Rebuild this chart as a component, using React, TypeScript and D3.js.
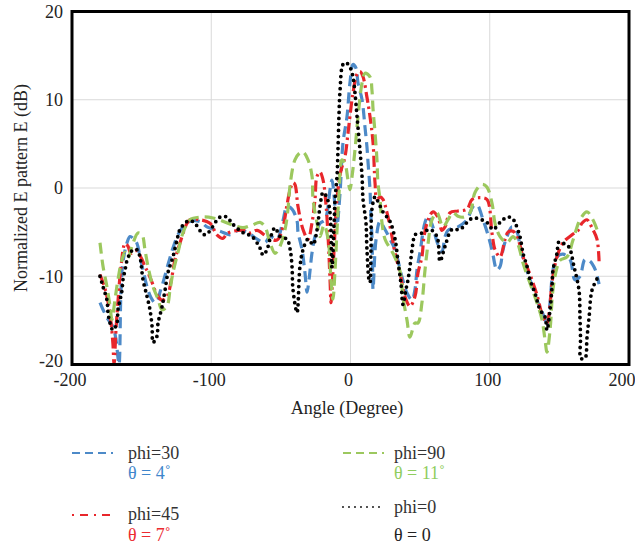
import React from "react";
import * as d3 from "d3";

type Pt = [number, number];

const xTicks = [-200, -100, 0, 100, 200];
const yTicks = [-20, -10, 0, 10, 20];
const xGrid = [-100, 0, 100];
const yGrid = [-10, 0, 10];

// phi=30, theta=4°
const phi30: Pt[] = [
  [-179.9, -13.0], [-177.7, -13.8], [-174.1, -14.9], [-170.6, -15.7], [-168.4, -17.2], [-167, -19.2], [-166.2, -20],
  [-164.8, -11.5], [-163.4, -8.4], [-160.5, -6.2], [-158.3, -5.5], [-155.5, -5.8], [-153.3, -6.3], [-151.2, -7.8],
  [-149, -9.3], [-146.1, -11.2], [-143.3, -12.4], [-140.4, -13.0], [-138.2, -12.6], [-136.8, -11.8], [-134.6, -10.7],
  [-131.1, -8.7], [-127.5, -6.8], [-123.9, -5.3], [-120.3, -4.4], [-115.3, -3.8], [-108.1, -3.8], [-103.1, -4.4],
  [-93.7, -4.9], [-86.5, -5.3], [-82.9, -5.0], [-80.8, -4.8], [-74.3, -5.0], [-67.1, -5.8], [-61.4, -6.2],
  [-57.8, -5.5], [-52.8, -5.8], [-48.5, -3.7], [-45.6, -2.1], [-42, -2.4], [-38.4, -3.7], [-37.7, -5.0],
  [-34.8, -7.0], [-32.7, -9.6], [-31.2, -11.8], [-29.8, -10.4], [-27.6, -7.3], [-25.5, -5.5], [-21.9, -4.0],
  [-18.3, -3.6], [-14.7, -0.2], [-13.3, 0.9], [-11.1, -2.1], [-9.7, -4.2], [-7.5, -0.5], [-5.4, 5.1],
  [-2.5, 8.1], [-0.4, 11.9], [1.8, 14.0], [3.9, 13.6], [5.4, 11.9], [8.3, 10.0], [10.4, 6.9], [11.8, 4.7],
  [12.6, 2.9], [14, -0.2], [14.7, -3.3], [15.4, -5.5], [15.8, -8.5], [16.2, -11.5], [18.3, -5.9], [21.2, -3.8],
  [24.1, -4.5], [28.4, -5.8], [32, -7.0], [37, -10.1], [40.6, -11.9], [44.2, -12.7], [46.3, -11.5], [47.8, -9.2],
  [49.9, -7.3], [53.5, -3.9], [55.7, -3.2], [58.5, -4.1], [62.8, -6.4], [65.7, -7.2], [67.9, -5.5], [70, -4.8],
  [77.2, -4.4], [83.7, -3.6], [88, -2.1], [90.8, -1.9], [95.2, -3.6], [98.7, -5.3], [101.6, -7.0], [105.2, -9.3],
  [107.4, -8.9], [109.5, -7.0], [112.4, -5.5], [116, -4.4], [119.6, -5.0], [121.7, -6.6], [125.3, -8.7],
  [128.9, -10.4], [133.9, -12.7], [137.5, -14.0], [139.7, -14.9], [141.1, -15.7], [143.3, -13.0], [145.4, -9.3],
  [148.3, -7.8], [152.6, -7.5], [157.6, -8.1], [161.2, -10.4], [164.8, -10.0], [168.4, -8.1], [172, -8.3],
  [175.6, -9.2], [178.5, -10.9],
];

// phi=45, theta=7°
const phi45: Pt[] = [
  [-179.9, -9.8], [-176.3, -11.4], [-174.1, -12.9], [-172, -15.2], [-170.6, -17.7], [-169.8, -20], [-168.4, -16.0],
  [-167, -12.9], [-164.8, -8.9], [-161.9, -6.3], [-159.8, -6.6], [-157.6, -7.4], [-154, -7.1], [-149.7, -8.1],
  [-147.6, -8.9], [-145.4, -9.6], [-142.5, -10.7], [-139, -12.1], [-135.4, -12.7], [-131.8, -12.3], [-128.2, -10.0],
  [-126, -8.1], [-122.4, -6.2], [-117.4, -4.0], [-115.3, -3.6], [-108.1, -3.6], [-100.9, -4.0], [-95.9, -5.3],
  [-91.6, -5.7], [-88, -5.1], [-77.2, -4.8], [-72.2, -5.1], [-67.1, -4.8], [-60, -5.5], [-52.8, -5.9],
  [-48.5, -4.4], [-45.6, -1.9], [-43.4, -0.2], [-41.3, 0.6], [-39.9, 0.4], [-37.7, -2.1], [-34.1, -4.7],
  [-30.5, -5.8], [-27.6, -3.9], [-25.5, -1.3], [-24.1, 1.3], [-21.9, 1.8], [-19.7, 0.9], [-17.6, -1.9],
  [-16.1, -5.5], [-14.7, -10.4], [-14, -13.0], [-13.3, -11.5], [-11.8, -7.0], [-9.7, -1.3], [-7.5, 1.5],
  [-6.1, 2.4], [-4, 3.5], [-1.8, 6.2], [-0.4, 8.1], [1.8, 10.8], [4.7, 12.9], [6.8, 13.2], [9, 12.6],
  [11.8, 10.3], [14, 8.1], [16.2, 5.1], [17.6, 0.6], [19, -1.3], [21.2, -1.0], [23.3, -1.3], [26.2, -2.8],
  [29.8, -5.5], [32, -7.4], [35.5, -9.6], [39.1, -12.3], [42.7, -13.4], [46.3, -12.3], [48.5, -9.6],
  [51.3, -7.8], [52.8, -5.5], [55.7, -3.6], [59.2, -2.7], [62.8, -3.3], [65.7, -4.8], [67.9, -4.4],
  [71.5, -2.8], [77.2, -2.6], [83.7, -2.4], [87.3, -1.3], [93, -1.1], [98, -1.3], [101.6, -5.1], [103.8, -7.0],
  [107.4, -7.8], [111, -5.8], [113.1, -5.0], [116.7, -4.9], [120.3, -5.8], [123.9, -7.8], [128.9, -9.8],
  [133.9, -12.1], [138.2, -14.6], [141.1, -15.3], [143.3, -13.2], [144.7, -10.7], [148.3, -7.8], [152.6, -6.2],
  [159.1, -5.3], [163.4, -4.8], [166.2, -4.0], [169.8, -3.6], [173.4, -4.5], [177, -5.8], [178.5, -8.3],
];

// phi=90, theta=11°
const phi90: Pt[] = [
  [-179.9, -6.2], [-177.7, -8.9], [-174.9, -11.2], [-172.7, -13.4], [-171.3, -14.9], [-169.1, -12.6], [-167, -10.4],
  [-164.1, -8.1], [-161.9, -7.3], [-159.8, -7.9], [-156.9, -6.6], [-152.6, -5.1], [-149.7, -5.3], [-147.6, -7.0],
  [-145.4, -8.9], [-141.8, -11.2], [-138.2, -12.6], [-135.4, -13.8], [-131.8, -13.4], [-129.6, -11.5],
  [-127.5, -9.6], [-123.9, -7.3], [-120.3, -5.1], [-115.3, -3.6], [-108.1, -3.3], [-98.7, -3.4], [-84.4, -4.2],
  [-77.2, -4.5], [-70.7, -4.2], [-65, -3.9], [-61.4, -4.4], [-57.8, -6.2], [-54.2, -7.4], [-50.6, -6.6],
  [-47, -4.7], [-44.9, -2.4], [-43.4, 0.3], [-39.9, 3.2], [-36.3, 4.0], [-34.1, 4.1], [-30.5, 3.2],
  [-27.6, 1.3], [-26.9, -1.3], [-24.1, -3.9], [-21.9, -5.5], [-19, -4.2], [-16.1, -5.8], [-14, -10.4],
  [-12.6, -12.6], [-11.1, -9.3], [-9.7, -4.8], [-8.3, -0.8], [-6.1, 3.2], [-4, 2.8], [-1.8, 0.9], [-0.4, -0.2],
  [1.1, 1.3], [3.2, 4.3], [5.4, 8.1], [8.3, 11.9], [10.4, 13.0], [14, 12.6], [15.4, 11.1], [16.2, 8.9],
  [17.6, 6.3], [19, 3.2], [19.7, 0.6], [21.2, -1.3], [22.6, -3.9], [24.8, -5.8], [30.5, -7.4], [35.5, -9.4],
  [37.7, -12.4], [40.6, -15.0], [42.7, -16.9], [46.3, -15.3], [48.5, -15.3], [51.3, -13.0], [53.5, -9.3],
  [55.7, -6.3], [58.5, -3.6], [62.1, -2.8], [66.4, -4.4], [70, -3.6], [73.6, -2.8], [77.2, -3.2], [81, -3.3],
  [85.8, -2.8], [89.4, -0.5], [94.4, 0.4], [98, 0.1], [101.6, -1.7], [103.8, -4.0], [107.4, -5.5],
  [112.4, -6.2], [116.7, -5.5], [120.3, -6.4], [123.9, -8.5], [128.9, -10.8], [133.9, -13.0], [137.5, -14.9],
  [139.7, -17.2], [141.1, -18.6], [143.3, -16.1], [145.4, -11.5], [148.3, -9.0], [150.4, -8.2], [155.5, -7.8],
  [159.8, -5.9], [164.8, -3.6], [169.8, -2.7], [174.1, -3.6], [177.7, -5.0],
];

// phi=0, theta=0
const phi0: Pt[] = [
  [-179.9, -10.0], [-177.7, -11.2], [-174.9, -12.7], [-174.1, -14.2], [-172.7, -15.3], [-170.6, -16.1],
  [-167.7, -15.3], [-167, -13.8], [-165.5, -12.7], [-164.1, -11.6], [-163.4, -10.4], [-161.9, -9.3],
  [-160.5, -8.2], [-158.3, -7.4], [-156.2, -7.0], [-153.3, -7.0], [-151.2, -7.8], [-149, -10.4], [-146.1, -12.3],
  [-144, -13.8], [-142.5, -15.7], [-141.8, -17.5], [-139, -16.8], [-138.2, -15.3], [-135.4, -13.5],
  [-133.2, -11.6], [-131.1, -9.6], [-127.5, -7.8], [-124.6, -5.9], [-122.4, -4.7], [-117.4, -3.8],
  [-113.1, -3.8], [-104.5, -5.3], [-93.7, -3.3], [-88.7, -3.3], [-85.1, -4.0], [-77.9, -5.0], [-70.7, -5.5],
  [-65, -6.8], [-62.8, -7.6], [-60, -7.0], [-57.8, -5.8], [-54.2, -4.5], [-50.6, -5.5], [-45.6, -5.8],
  [-43.4, -6.9], [-42, -8.9], [-41.3, -11.5], [-38.4, -14.1], [-36.3, -8.9], [-34.1, -7.0], [-30.5, -5.8],
  [-26.9, -6.4], [-24.1, -4.8], [-21.9, -2.1], [-19.7, -0.5], [-16.9, -1.1], [-14.7, -2.8], [-13.3, -9.0],
  [-11.8, -4.2], [-11.1, -1.3], [-9.7, 1.3], [-9, 4.3], [-8.3, 8.1], [-7.5, 11.1], [-5.4, 14.0], [-3.2, 14.2],
  [-0.4, 13.7], [1.8, 12.6], [3.2, 10.8], [4.7, 8.1], [6.8, 4.3], [8.3, 1.3], [9, -1.3], [11.1, -3.9],
  [11.8, -6.9], [13.3, -10.4], [14, -10.7], [14.7, -7.0], [15.4, -2.4], [17.6, -1.0], [19, -1.3], [23.3, -2.7],
  [28.4, -3.8], [32, -5.8], [34.1, -8.3], [36.3, -10.9], [37.7, -13.2], [39.8, -11.5], [41.3, -10.4],
  [42.7, -8.9], [44.9, -6.2], [46.3, -5.3], [51.3, -5.1], [57.1, -4.7], [62.1, -5.5], [64.3, -8.3],
  [67.9, -6.6], [72.9, -4.7], [78.6, -4.7], [83.7, -3.9], [88, -3.4], [98, -3.9], [102.3, -4.7], [107.4, -3.9],
  [112.4, -3.3], [116, -3.4], [118.1, -3.9], [121.7, -5.5], [123.9, -7.4], [126.8, -8.9], [128.9, -10.4],
  [132.5, -11.9], [136.1, -13.8], [139.7, -14.6], [141.1, -16.1], [143.3, -13.8], [144.7, -11.2],
  [145.4, -9.3], [148.3, -7.4], [149.7, -6.1], [153.3, -6.3], [156.9, -6.7], [160.5, -8.9], [164.1, -11.6],
  [164.8, -14.7], [165.2, -17.0], [165.5, -19.3], [168.4, -19.3], [169.8, -17.0], [171.3, -14.7],
  [173.4, -11.6], [177, -10.3],
];

const seriesLabels = ["phi=30", "phi=45", "phi=90", "phi=0"];
const thetaLabels = ["θ = 4˚", "θ = 7˚", "θ = 11˚", "θ = 0"];

const FONT = "Times New Roman";

export default function App() {
  const W = 635;
  const H = 548;
  const left = 72, right = 629, top = 11.5, bottom = 364.5;
  const x = d3.scaleLinear().domain([-200, 200]).range([left, right]);
  const y = d3.scaleLinear().domain([-20, 20]).range([bottom, top]);
  const line = d3
    .line<Pt>()
    .x((d) => x(d[0]))
    .y((d) => y(d[1]))
    .curve(d3.curveCatmullRom.alpha(0.5));

  const styles = [
    { data: phi30, color: "#4d8ac8", dash: "11,6", width: 3.2, cap: "butt", text: "#3f86cc" },
    { data: phi45, color: "#e8262b", dash: "11,4,2.5,4", width: 3.2, cap: "butt", text: "#ec2a2f" },
    { data: phi90, color: "#9cc85e", dash: "11,6", width: 3.2, cap: "butt", text: "#8fcd5e" },
    { data: phi0, color: "#000000", dash: "0,6", width: 3.8, cap: "round", text: "#222222" },
  ];

  const legendPos = [
    { lx: 72, ly: 453, tx: 128, ty1: 459, ty2: 479 },
    { lx: 72, ly: 515, tx: 128, ty1: 520, ty2: 541 },
    { lx: 343, ly: 453, tx: 394, ty1: 459, ty2: 479 },
    { lx: 343, ly: 507, tx: 394, ty1: 513, ty2: 541 },
  ];

  const fs = 18;
  const txt: React.CSSProperties = { fontFamily: `"${FONT}"`, fontSize: fs };

  const legendLines = styles.map((s, i) => {
    const p = legendPos[i];
    return (
      <line
        key={"ll" + i}
        x1={p.lx}
        x2={p.lx + 41}
        y1={p.ly}
        y2={p.ly}
        stroke={s.color}
        strokeWidth={i === 3 ? 1.8 : 2}
        strokeDasharray={i === 3 ? "0,6" : i === 1 ? "2,6,8,6" : "8,5"}
        strokeLinecap={s.cap as any}
      />
    );
  });
  const legendTexts1 = styles.map((s, i) => (
    <text key={"lt1" + i} x={legendPos[i].tx} y={legendPos[i].ty1} fontFamily={FONT} fontSize={fs} style={txt} fill="#333">
      {seriesLabels[i]}
    </text>
  ));
  const legendTexts2 = styles.map((s, i) => (
    <text key={"lt2" + i} x={legendPos[i].tx} y={legendPos[i].ty2} fontFamily={FONT} fontSize={fs} style={txt} fill={s.text}>
      {thetaLabels[i]}
    </text>
  ));

  return (
    <svg
      width={W}
      height={H}
      fontFamily={FONT}
      style={{ position: "absolute", left: 0, top: 0, background: "#fff", fontFamily: `"${FONT}"` }}
    >
      <defs>
        <clipPath id="plotclip">
          <rect x={left} y={top} width={right - left} height={bottom - top + 1} />
        </clipPath>
      </defs>
      <rect x={0} y={0} width={W} height={H} fill="#fff" />
      {xGrid.map((v) => (
        <line key={"gx" + v} x1={x(v)} x2={x(v)} y1={top} y2={bottom} stroke="#d9d9d9" strokeWidth={1} />
      ))}
      {yGrid.map((v) => (
        <line key={"gy" + v} x1={left} x2={right} y1={y(v)} y2={y(v)} stroke="#d9d9d9" strokeWidth={1} />
      ))}
      <g clipPath="url(#plotclip)">
        {styles.map((s, i) => (
          <path
            key={i}
            d={line(s.data) || ""}
            fill="none"
            stroke={s.color}
            strokeWidth={s.width}
            strokeDasharray={s.dash}
            strokeLinecap={s.cap as any}
          />
        ))}
      </g>
      <rect x={left} y={top} width={right - left} height={bottom - top} fill="none" stroke="#000" strokeWidth={3} />
      {yTicks.map((v) => (
        <text
          key={"yt" + v}
          x={63}
          y={v === -20 ? y(v) - 4 : y(v)}
          dy="0.35em"
          textAnchor="end"
          fontFamily={FONT}
          fontSize={fs}
          style={txt}
          fill="#222"
        >
          {v}
        </text>
      ))}
      {xTicks.map((v) => (
        <text
          key={"xt" + v}
          x={v === 200 ? x(v) - 7 : x(v) - 2}
          y={386}
          textAnchor="middle"
          fontFamily={FONT}
          fontSize={fs}
          style={txt}
          fill="#222"
        >
          {v}
        </text>
      ))}
      <text x={347} y={414} textAnchor="middle" fontFamily={FONT} fontSize={fs} style={txt} fill="#222">
        Angle (Degree)
      </text>
      <text
        transform={`translate(27, ${y(0)}) rotate(-90)`}
        textAnchor="middle"
        fontFamily={FONT}
        fontSize={fs}
        style={txt}
        fill="#222"
      >
        Normalized E pattern E (dB)
      </text>
      {legendLines}
      {legendTexts1}
      {legendTexts2}
    </svg>
  );
}
